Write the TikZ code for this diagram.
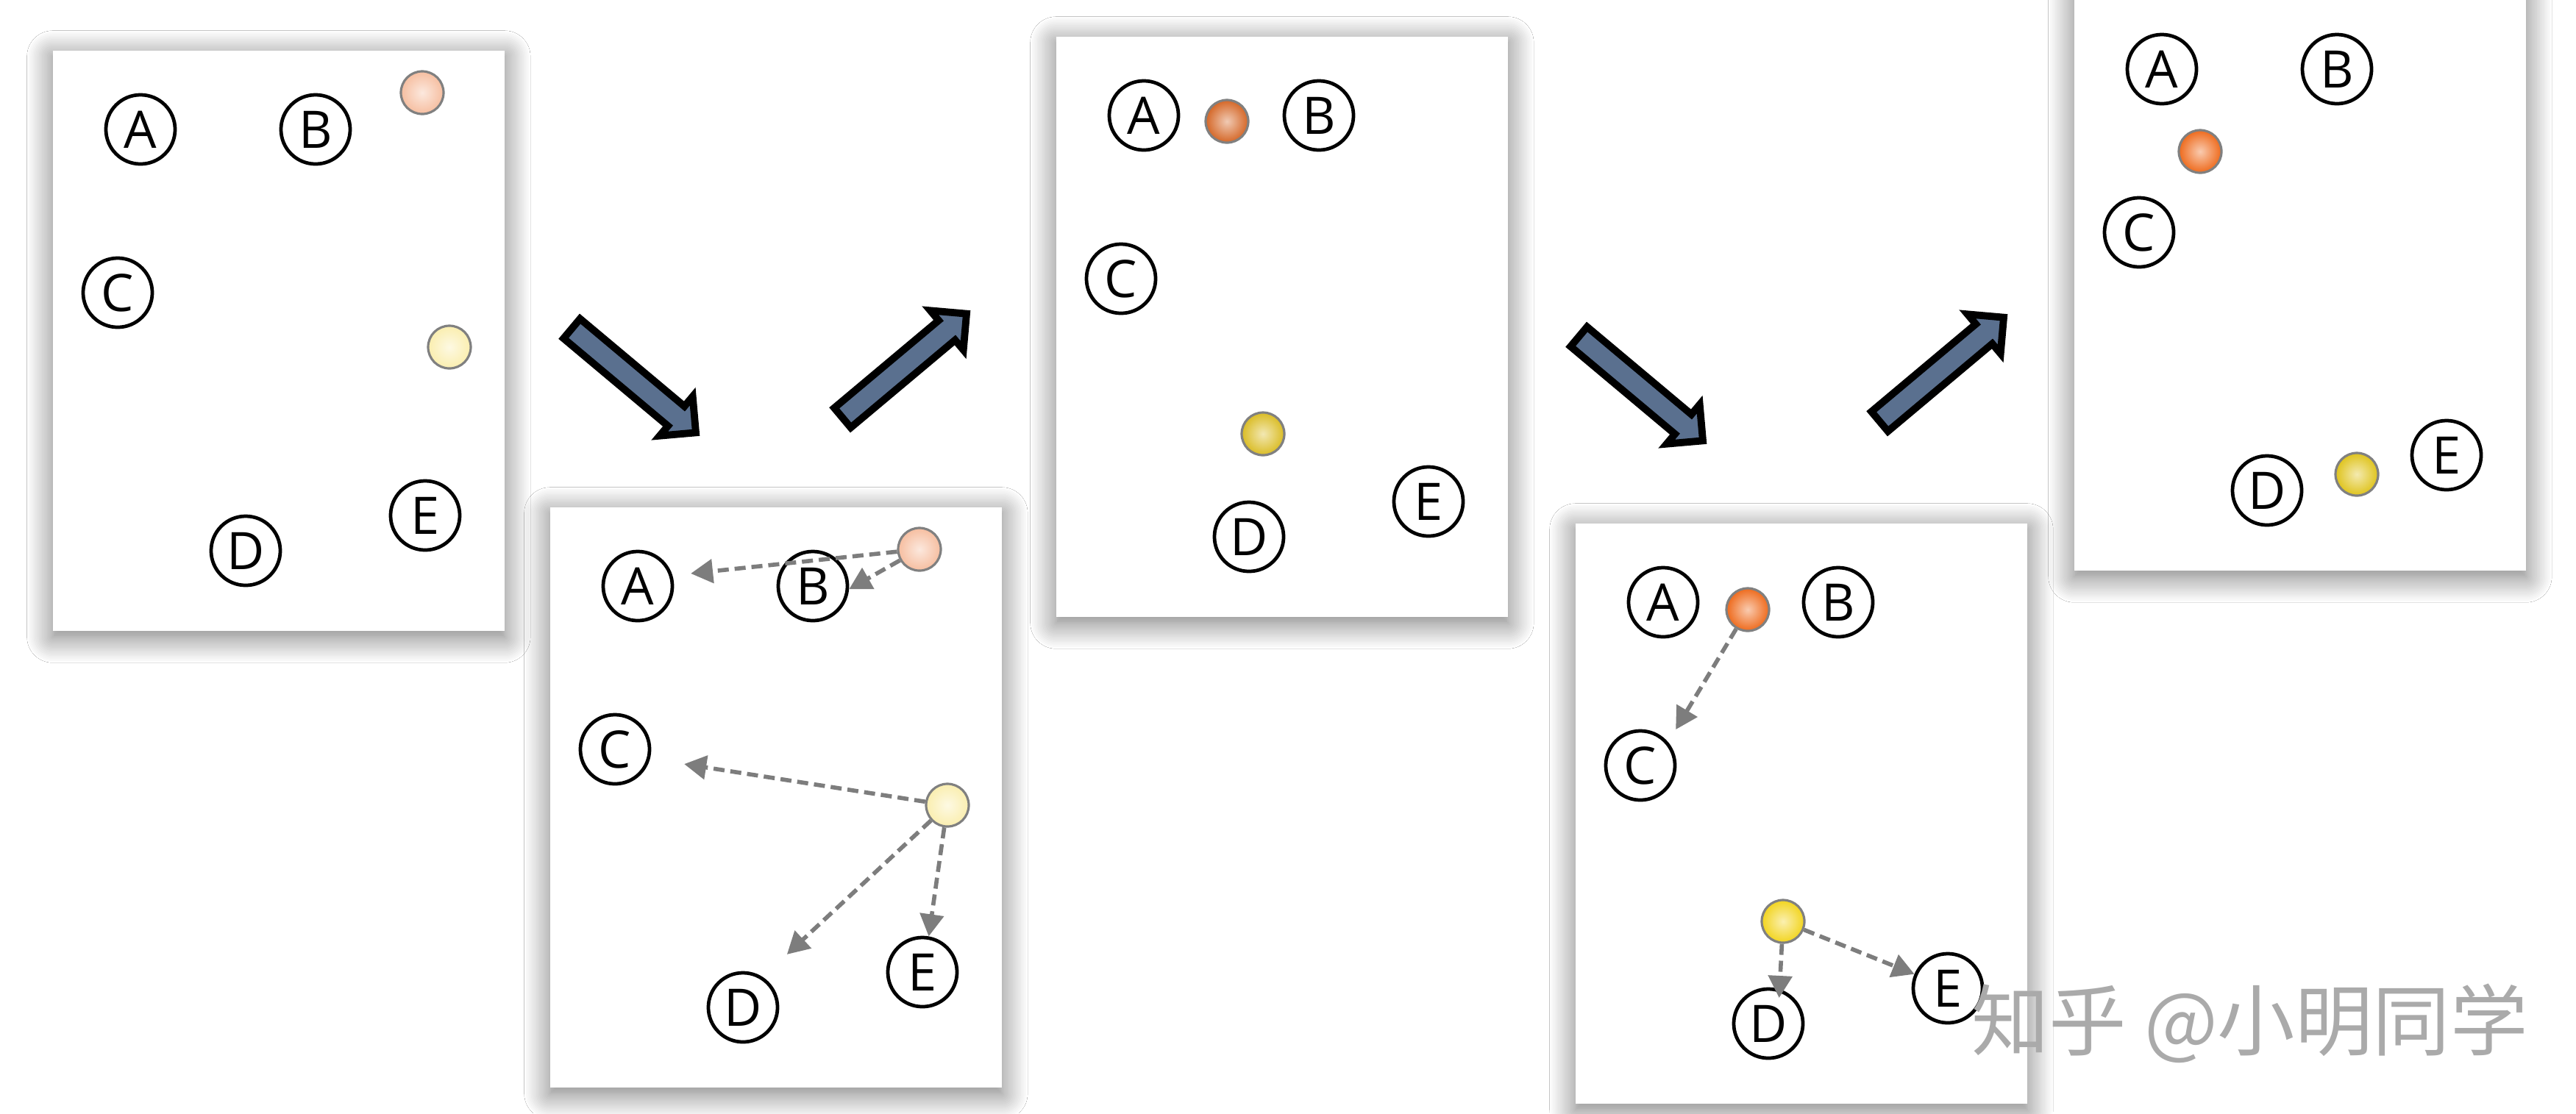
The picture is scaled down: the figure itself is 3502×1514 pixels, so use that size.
\documentclass[tikz,border=0pt]{standalone}
\usepackage{fontspec}
\usepackage{xcolor}
\usepackage{tikz}
\usetikzlibrary{arrows.meta, shapes.arrows, shadows.blur}
\newfontfamily\letrasf{Open Sans}
\newfontfamily\cjk{Noto Sans CJK SC}
\definecolor{azulgris}{RGB}{90, 112, 143}
\definecolor{grisflecha}{RGB}{125, 125, 125}
\definecolor{grisbola}{RGB}{128, 128, 128}
\definecolor{grismarca}{RGB}{170, 170, 170}
\definecolor{melocoton}{RGB}{246, 190, 160}
\definecolor{crema}{RGB}{250, 238, 175}
\definecolor{ocre}{RGB}{212, 102, 38}
\definecolor{oliva}{RGB}{218, 188, 36}
\definecolor{naranja}{RGB}{238, 106, 28}
\definecolor{amarillo}{RGB}{242, 212, 30}

\begin{document}
\begin{tikzpicture}[x=0.01cm, y=-0.01cm,
    panelbox/.style={rectangle, fill=white, minimum width=6.14cm, minimum height=7.89cm,
                     inner sep=0pt, anchor=north west,
                     blur shadow={shadow xshift=0pt, shadow yshift=-0.08cm,
                                  shadow blur radius=0.35cm, shadow blur steps=16,
                                  shadow opacity=55}},
    var/.style={circle, draw=black, line width=1.35pt, minimum size=0.94cm, inner sep=0pt,
                font=\letrasf\fontsize{20}{20}\selectfont},
    seed/.style={circle, draw=grisbola, line width=0.9pt, minimum size=0.58cm, inner sep=0pt,
                 inner color=#1!35!white, outer color=#1},
    assign/.style={-{Triangle[length=0.3cm, width=0.32cm]}, draw=grisflecha, line width=1.6pt,
                   dash pattern=on 0.15cm off 0.08cm},
    bigarrow/.style={single arrow, draw=black, line width=2.8pt, fill=azulgris,
                     minimum height=2.2cm, text height=0.25cm, text depth=0pt, inner sep=0pt,
                     single arrow head extend=0.175cm}
]
\path[fill=white] (0,0) rectangle (3502,1514);
\useasboundingbox (0,0) rectangle (3502,1514);

% paso 1: semillas al azar
\begin{scope}[shift={(71,68)}]
\node (p1) [panelbox] at (0,0) {};
\node (p1a) [var] at (120,108) {A};
\node (p1b) [var] at (358,108) {B};
\node (p1c) [var] at (89,330) {C};
\node (p1d) [var] at (263,681) {D};
\node (p1e) [var] at (507,633) {E};
\node (p1r) [seed=melocoton] at (503,58) {};
\node (p1y) [seed=crema] at (540,404) {};
\end{scope}

% paso 2: asignacion
\begin{scope}[shift={(747,689)}]
\node (p2) [panelbox] at (0,0) {};
\node (p2a) [var] at (120,108) {A};
\node (p2b) [var] at (358,108) {B};
\node (p2c) [var] at (89,330) {C};
\node (p2d) [var] at (263,681) {D};
\node (p2e) [var] at (507,633) {E};
\node (p2r) [seed=melocoton] at (503,58) {};
\node (p2y) [seed=crema] at (541,406) {};
\end{scope}
\draw [assign, shorten >=0.25cm] (p2r) -- (p2a.17);
\draw [assign] (p2r) -- (p2b.-5);
\draw [assign, shorten >=0.47cm] (p2y) -- (p2c.-15);
\draw [assign, shorten >=0.45cm] (p2y) -- (p2d.57);
\draw [assign] (p2y) -- (p2e.80);

% paso 3: nuevos centros
\begin{scope}[shift={(1435,49)}]
\node (p3) [panelbox] at (0,0) {};
\node (p3a) [var] at (120,108) {A};
\node (p3b) [var] at (358,108) {B};
\node (p3c) [var] at (89,330) {C};
\node (p3d) [var] at (263,681) {D};
\node (p3e) [var] at (507,633) {E};
\node (p3r) [seed=ocre] at (233,116) {};
\node (p3y) [seed=oliva] at (282,541) {};
\end{scope}

% paso 4: reasignacion
\begin{scope}[shift={(2141,711)}]
\node (p4) [panelbox] at (0,0) {};
\node (p4a) [var] at (120,108) {A};
\node (p4b) [var] at (358,108) {B};
\node (p4c) [var] at (89,330) {C};
\node (p4d) [var] at (263,681) {D};
\node (p4e) [var] at (507,633) {E};
\node (p4r) [seed=naranja] at (235,118) {};
\node (p4y) [seed=amarillo] at (283,542) {};
\end{scope}
\draw [assign, shorten >=0.2cm] (p4r) -- (p4c.40);
\draw [assign, shorten >=-0.12cm] (p4y) -- (p4d.72);
\draw [assign] (p4y) -- (p4e.157);

% paso 5: centros finales
\begin{scope}[shift={(2819,-14)}]
\node (p5) [panelbox] at (0,0) {};
\node (p5a) [var] at (120,108) {A};
\node (p5b) [var] at (358,108) {B};
\node (p5c) [var] at (89,330) {C};
\node (p5d) [var] at (263,681) {D};
\node (p5e) [var] at (507,633) {E};
\node (p5r) [seed=naranja] at (172,220) {};
\node (p5y) [seed=amarillo!92!black] at (385,659) {};
\end{scope}

% flechas entre pasos
\node (f1) [bigarrow, rotate=-40] at (855,512) {};
\node (f2) [bigarrow, rotate=40] at (1223,503) {};
\node (f3) [bigarrow, rotate=-40] at (2224,523) {};
\node (f4) [bigarrow, rotate=40] at (2633,508) {};

\node (marca) [anchor=west, text=grismarca, font=\cjk\fontsize{30}{30}\selectfont]
    at (2668,1392) {知乎 @小明同学};
\end{tikzpicture}
\end{document}
